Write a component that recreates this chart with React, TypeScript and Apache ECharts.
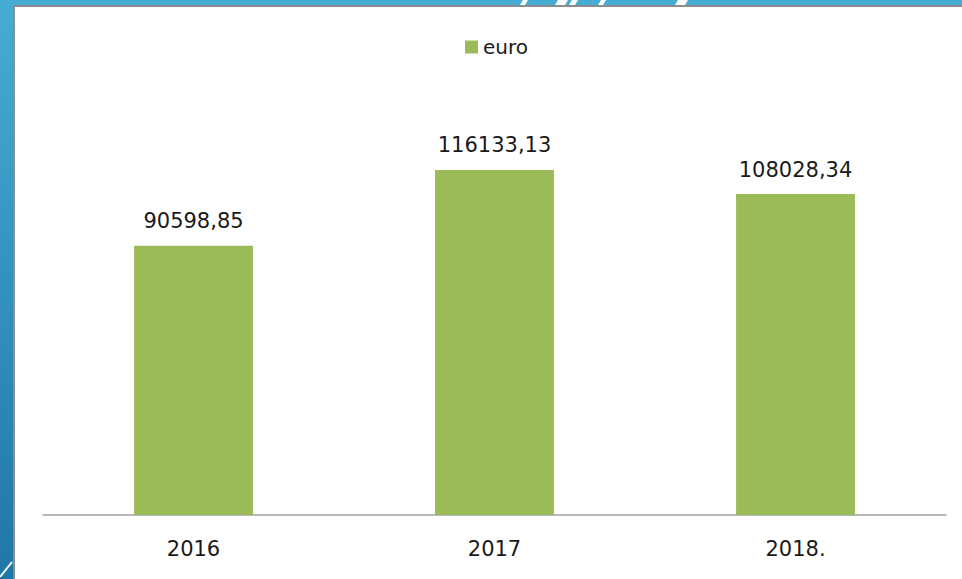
import React, { useEffect, useRef } from "react";
import * as echarts from "echarts";

const categories = ["2016", "2017", "2018."];
const seriesName = "euro";
const values = [90598.85, 116133.13, 108028.34];

const FONT = "DejaVu Sans";

export default function App() {
  const ref = useRef<HTMLDivElement>(null);
  useEffect(() => {
    if (!ref.current) return;
    const chart = echarts.init(ref.current, undefined, { renderer: "svg" });
    const dashes = [
      [520, 527],
      [555, 567],
      [569, 577],
      [598, 605],
      [675, 687],
    ];
    chart.setOption({
      animation: false,
      backgroundColor: "#ffffff",
      graphic: [
        {
          type: "rect",
          z: -10,
          silent: true,
          shape: { x: 0, y: 0, width: 962, height: 579 },
          style: {
            fill: new echarts.graphic.LinearGradient(0, 0, 0, 1, [
              { offset: 0, color: "#45add4" },
              { offset: 1, color: "#1f77a7" },
            ]),
          },
        },
        {
          type: "rect",
          z: -9,
          silent: true,
          shape: { x: 13, y: 5, width: 949, height: 574 },
          style: { fill: "#8c8c8c" },
        },
        {
          type: "rect",
          z: -8,
          silent: true,
          shape: { x: 15, y: 7, width: 947, height: 572 },
          style: { fill: "#ffffff" },
        },
        ...dashes.map(([a, b]) => ({
          type: "polygon",
          z: -7,
          silent: true,
          shape: {
            points: [
              [a, 5],
              [b - 2, 5],
              [b + 1, 0],
              [a + 3, 0],
            ],
          },
          style: { fill: "#ffffff" },
        })),
        {
          type: "line",
          z: -7,
          silent: true,
          shape: { x1: 0, y1: 577, x2: 12, y2: 562 },
          style: { stroke: "#ffffff", lineWidth: 2 },
        },
      ],
      legend: {
        data: [seriesName],
        left: 460,
        top: 32,
        icon: "rect",
        itemWidth: 13,
        itemHeight: 13,
        itemGap: 5,
        textStyle: { fontFamily: FONT, fontSize: 20, color: "#1a1a1a" },
      },
      grid: { left: 43, right: 16, top: 99, bottom: 64 },
      xAxis: {
        type: "category",
        data: categories,
        axisLine: { lineStyle: { color: "#a0a0a0", width: 1.5 } },
        axisTick: { show: false },
        axisLabel: {
          fontFamily: FONT,
          fontSize: 21,
          color: "#1a1a1a",
          margin: 23,
        },
      },
      yAxis: {
        type: "value",
        min: 0,
        max: 140000,
        show: false,
        splitLine: { show: false },
      },
      series: [
        {
          name: seriesName,
          type: "bar",
          data: values,
          barWidth: "39.5%",
          itemStyle: { color: "#9bbb59" },
          label: {
            show: true,
            position: "top",
            distance: 14,
            fontFamily: FONT,
            fontSize: 21,
            color: "#1a1a1a",
            formatter: (p: any) => p.value.toFixed(2).replace(".", ","),
          },
        },
      ],
    });
    return () => chart.dispose();
  }, []);
  return (
    <div
      ref={ref}
      style={{ position: "absolute", left: 0, top: 0, width: 962, height: 579 }}
    />
  );
}
